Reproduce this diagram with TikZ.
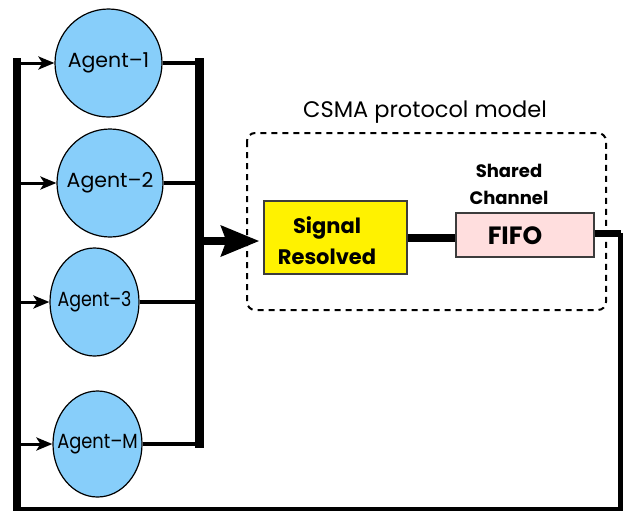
\documentclass[tikz,border=0pt]{standalone}
\usepackage{xcolor}
\usepackage{graphicx}
\usepackage{fontspec}
\setmainfont{Poppins}
\usepackage{tikz}
\usetikzlibrary{shapes, calc, positioning, arrows.meta}

\definecolor{agentblue}{RGB}{135,206,250}
\definecolor{fifopink}{RGB}{255,222,222}
\definecolor{boxgray}{RGB}{60,60,60}

\begin{document}
\begin{tikzpicture}[x=1pt, y=-1pt,
	agent/.style={ellipse, draw, line width=1.2pt, fill=agentblue, inner sep=0pt, font=\fontsize{20.5}{24}\selectfont},
	block/.style={draw=boxgray, line width=1.2pt, inner sep=0pt},
	inarrow/.style={line width=3pt, -{Stealth[length=16pt, width=13pt, inset=4pt]}},
	wire/.style={line width=4pt}]
	\useasboundingbox (0,0) rectangle (623,512);

	\foreach \n/\lab/\x/\y/\w/\h/\sx in {agent1/1/108.5/63/107/108/1, agent2/2/110/183/106/108/1, agent3/3/94.5/302/89/108/0.85, agentM/M/97.5/444/89/106/0.87}
	{
		\node [agent, minimum width=\w pt, minimum height=\h pt] (\n) at (\x, \y) {\makebox[0pt]{\scalebox{\sx}[1]{Agent–\lab}}};
	}

	\coordinate (ltop) at (17, 58);
	\coordinate (lbot) at (17, 511);
	\coordinate (rtop) at (199.5, 58);
	\coordinate (rbot) at (199.5, 448);

	\foreach \n in {agent1, agent2, agent3, agentM}
	{
		\draw [inarrow] (ltop |- \n.west) -- (\n.west);
		\draw [wire] (\n.east) -- (rtop |- \n.east);
	}
	\draw [line width=8pt] (ltop) -- (lbot);
	\draw [line width=9pt] (rtop) -- (rbot);

	% protocol model
	\draw [line width=2pt, dash pattern=on 6pt off 5pt, rounded corners=8pt] (247,133) rectangle (606,310);
	\node [font=\fontsize{22.5}{26}\selectfont] (csma) at (425, 112) {CSMA protocol model};

	\node [block, fill=yellow, minimum width=143pt, minimum height=73pt] (signal) at (335.5, 237.5) {};
	\node [font=\bfseries\fontsize{21}{31}\selectfont, align=center] (signaltxt) at (327, 241) {Signal\\Resolved};

	\node [block, fill=fifopink, minimum width=138pt, minimum height=44pt] (fifo) at (525, 235) {};
	\node [font=\bfseries\fontsize{25}{30}\selectfont] (fifotxt) at (515, 236) {FIFO};
	\node [font=\bfseries\fontsize{18}{27}\selectfont, align=center] (shared) at (509, 184) {Shared\\Channel};

	\coordinate (busout) at (199.5, 241);
	\draw [line width=8pt, -{Stealth[length=38pt, width=30pt, inset=5pt]}, shorten >=4pt] (busout) -- (busout -| signal.west);
	\draw [line width=8pt] (signal.east) -- (signal.east -| fifo.west);

	% feedback to the agents
	\coordinate (loopr) at (620.5, 233);
	\coordinate (loopb) at (620.5, 509);
	\draw [line width=7pt] (fifo.east |- loopr) -- (loopr);
	\draw [line width=4.5pt] (loopr) -- (loopb) -- (lbot |- loopb);
\end{tikzpicture}
\end{document}
